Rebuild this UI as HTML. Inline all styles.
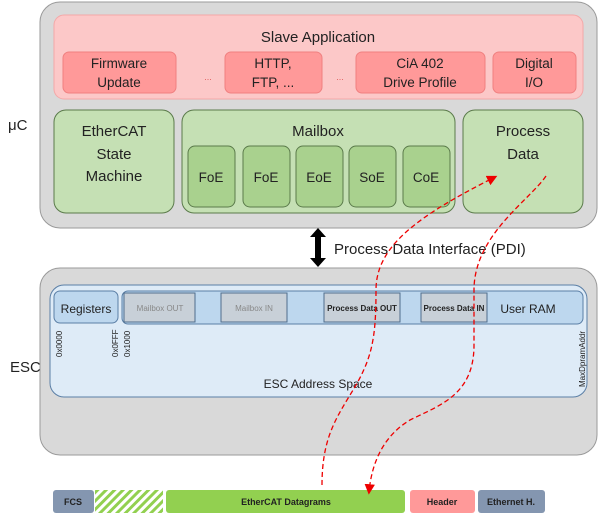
<!DOCTYPE html>
<html><head><meta charset="utf-8"><style>
body{margin:0;width:600px;height:515px;background:#fff;overflow:hidden}
svg text{font-family:"Liberation Sans",sans-serif}
</style></head><body>
<svg width="600" height="515" viewBox="0 0 600 515">
<defs>
<pattern id="h" width="6" height="6" patternUnits="userSpaceOnUse" patternTransform="rotate(45)">
<rect width="6" height="6" fill="#fff"/><rect width="3" height="6" fill="#92d050"/></pattern>
<marker id="ar" markerWidth="8" markerHeight="8" refX="6" refY="4" orient="auto"><path d="M0,0 L8,4 L0,8z" fill="#e00"/></marker>
</defs>
<text x="8" y="130" font-size="15" fill="#222">μC</text>
<text x="10" y="372" font-size="15" fill="#222">ESC</text>
<rect x="40" y="2" width="557" height="226" rx="20" fill="#d9d9d9" stroke="#9a9a9a"/>
<rect x="54" y="15" width="529" height="84" rx="10" fill="#fcc8c8" stroke="#f4a8a8"/>
<text x="318" y="42" font-size="15" text-anchor="middle" fill="#222">Slave Application</text>
<g fill="#f99" stroke="#f08080" font-size="13.5" text-anchor="middle">
<rect x="63" y="52" width="113" height="41" rx="6"/><rect x="225" y="52" width="97" height="41" rx="6"/>
<rect x="356" y="52" width="129" height="41" rx="6"/><rect x="493" y="52" width="83" height="41" rx="6"/>
</g>
<g font-size="13.5" text-anchor="middle" fill="#222">
<text x="119" y="68">Firmware</text><text x="119" y="87">Update</text>
<text x="273" y="68">HTTP,</text><text x="273" y="87">FTP, ...</text>
<text x="420" y="68">CiA 402</text><text x="420" y="87">Drive Profile</text>
<text x="534" y="68">Digital</text><text x="534" y="87">I/O</text>
<text x="208" y="80" font-size="9" fill="#e06060">...</text><text x="340" y="80" font-size="9" fill="#e06060">...</text>
</g>
<g fill="#c5e0b4" stroke="#5a7a4a">
<rect x="54" y="110" width="120" height="103" rx="12"/><rect x="182" y="110" width="273" height="103" rx="12"/><rect x="463" y="110" width="120" height="103" rx="12"/>
</g>
<g fill="#a9d18e" stroke="#5a7a4a">
<rect x="188" y="146" width="47" height="61" rx="7"/><rect x="243" y="146" width="47" height="61" rx="7"/><rect x="296" y="146" width="47" height="61" rx="7"/><rect x="349" y="146" width="47" height="61" rx="7"/><rect x="403" y="146" width="47" height="61" rx="7"/>
</g>
<g font-size="15" text-anchor="middle" fill="#222">
<text x="114" y="136">EtherCAT</text><text x="114" y="159">State</text><text x="114" y="181">Machine</text>
<text x="318" y="136">Mailbox</text>
<text x="523" y="136">Process</text><text x="523" y="159">Data</text>
<g font-size="13.5"><text x="211" y="182">FoE</text><text x="266" y="182">FoE</text><text x="319" y="182">EoE</text><text x="372" y="182">SoE</text><text x="426" y="182">CoE</text></g>
</g>
<path d="M318,228 L326,237 L321,237 L321,258 L326,258 L318,267 L310,258 L315,258 L315,237 L310,237z" fill="#000"/>
<text x="334" y="254" font-size="15" fill="#222">Process Data Interface (PDI)</text>
<rect x="40" y="268" width="557" height="187" rx="20" fill="#d9d9d9" stroke="#9a9a9a"/>
<rect x="50" y="285" width="537" height="112" rx="14" fill="#deebf7" stroke="#5b7fa6"/>
<rect x="54" y="291" width="64" height="32" rx="6" fill="#bdd7ee" stroke="#5b7fa6"/>
<rect x="122" y="291" width="461" height="33" rx="6" fill="#bdd7ee" stroke="#5b7fa6"/>
<g fill="#c8d0d8" stroke="#4f6d8c"><rect x="124" y="293" width="71" height="29"/><rect x="221" y="293" width="66" height="29"/><rect x="324" y="293" width="76" height="29"/><rect x="421" y="293" width="66" height="29"/></g>
<text x="86" y="313" font-size="12" text-anchor="middle" fill="#222">Registers</text>
<g font-size="8" text-anchor="middle"><text x="160" y="311" fill="#888">Mailbox OUT</text><text x="254" y="311" fill="#888">Mailbox IN</text>
<text x="362" y="311" font-weight="bold" fill="#222">Process Data OUT</text><text x="454" y="311" font-weight="bold" fill="#222">Process Data IN</text></g>
<text x="528" y="313" font-size="12" text-anchor="middle" fill="#222">User RAM</text>
<g font-size="8" fill="#222"><text transform="translate(62,357) rotate(-90)">0x0000</text><text transform="translate(118,357) rotate(-90)">0x0FFF</text><text transform="translate(130,357) rotate(-90)">0x1000</text><text transform="translate(585,387) rotate(-90)">MaxDpramAddr</text></g>
<text x="318" y="388" font-size="12" text-anchor="middle" fill="#222">ESC Address Space</text>
<rect x="53" y="490" width="41" height="23" rx="3" fill="#8496b0"/>
<rect x="95" y="490" width="68" height="23" fill="url(#h)"/>
<rect x="166" y="490" width="239" height="23" rx="3" fill="#92d050"/>
<rect x="410" y="490" width="65" height="23" rx="3" fill="#ff9999"/>
<rect x="478" y="490" width="67" height="23" rx="3" fill="#8496b0"/>
<g font-size="9" font-weight="bold" text-anchor="middle" fill="#222"><text x="73" y="505">FCS</text><text x="286" y="505">EtherCAT Datagrams</text><text x="442" y="505">Header</text><text x="511" y="505">Ethernet H.</text></g>
<path d="M322,485 C322,440 335,420 350,395 C372,360 376,340 376,290 C376,245 420,215 495,177" fill="none" stroke="#e00" stroke-width="1.3" stroke-dasharray="5,3" marker-end="url(#ar)"/>
<path d="M546,176 C530,200 474,235 474,290 L474,345 C474,395 440,405 410,420 C385,435 372,460 369,492" fill="none" stroke="#e00" stroke-width="1.3" stroke-dasharray="5,3" marker-end="url(#ar)"/>
</svg>
</body></html>
